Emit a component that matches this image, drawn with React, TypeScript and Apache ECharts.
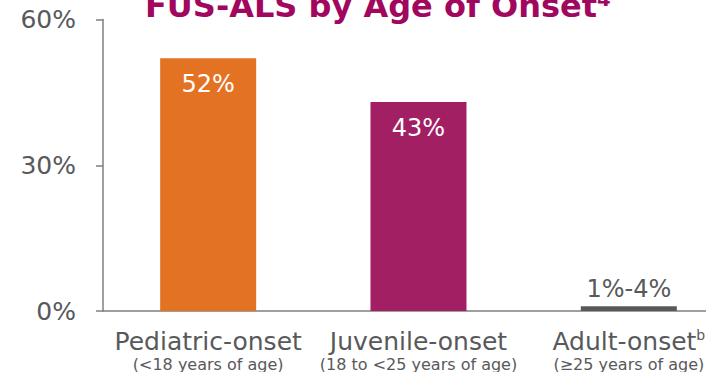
import React, { useEffect, useRef } from "react";
import * as echarts from "echarts";

const titleText = "FUS-ALS by Age of Onset⁴";
const categories = ["Pediatric-onset", "Juvenile-onset", "Adult-onset"];
const categoryNotes = ["", "", "b"];
const categorySubtitles = ["(<18 years of age)", "(18 to <25 years of age)", "(≥25 years of age)"];
const values = [52, 43, 1];
const valueLabels = ["52%", "43%", "1%-4%"];
const barColors = ["#E37222", "#A21F64", "#58595B"];
const yMin = 0;
const yMax = 60;
const yInterval = 30;

const FONT = "DejaVu Sans";
const GRAY = "#58595B";

export default function App() {
  const ref = useRef<HTMLDivElement>(null);
  useEffect(() => {
    if (!ref.current) return;
    const chart = echarts.init(ref.current, undefined, { renderer: "svg" });
    chart.setOption({
      animation: false,
      backgroundColor: "#ffffff",
      title: {
        text: titleText,
        left: 145,
        top: -10,
        padding: 0,
        textStyle: { fontFamily: FONT, fontSize: 32, fontWeight: "bold", color: "#A1075E" },
      },
      grid: {
        left: 103,
        top: 19.5,
        width: 631,
        height: 291.5,
        containLabel: false,
        outerBoundsMode: "none",
      },
      xAxis: {
        type: "category",
        data: categories,
        axisLine: { show: true, lineStyle: { color: "#7f7f7f", width: 1.5 } },
        axisTick: { show: false },
        axisLabel: {
          interval: 0,
          margin: 17,
          hideOverlap: false,
          formatter: (v: string, i: number) =>
            `{main|${v}}` + (categoryNotes[i] ? `{sup|${categoryNotes[i]}}` : "") + `\n{sub|${categorySubtitles[i]}}`,
          rich: {
            main: { fontFamily: FONT, fontSize: 25, lineHeight: 26, color: GRAY },
            sup: { fontFamily: FONT, fontSize: 14, lineHeight: 26, color: GRAY, verticalAlign: "top" },
            sub: { fontFamily: FONT, fontSize: 16, lineHeight: 20, color: GRAY },
          },
        },
      },
      yAxis: {
        type: "value",
        min: yMin,
        max: yMax,
        interval: yInterval,
        axisLine: { show: true, lineStyle: { color: "#7f7f7f", width: 1.5 } },
        axisTick: { show: true, length: 7, lineStyle: { color: "#7f7f7f", width: 1.5 } },
        splitLine: { show: false },
        axisLabel: {
          margin: 27,
          formatter: "{value}%",
          fontFamily: FONT,
          fontSize: 25,
          color: GRAY,
        },
      },
      series: [
        {
          type: "bar",
          barWidth: 96,
          data: values.map((v, i) => ({
            value: v,
            itemStyle: { color: barColors[i] },
            label:
              v < 10
                ? { position: "top", distance: 5, color: GRAY }
                : { position: "insideTop", distance: 14, color: "#ffffff" },
          })),
          label: {
            show: true,
            fontFamily: FONT,
            fontSize: 24,
            formatter: (p: any) => valueLabels[p.dataIndex],
          },
        },
      ],
    });
    return () => chart.dispose();
  }, []);
  return (
    <div
      ref={ref}
      style={{ position: "fixed", left: 0, top: 0, width: 706, height: 372 }}
    />
  );
}
